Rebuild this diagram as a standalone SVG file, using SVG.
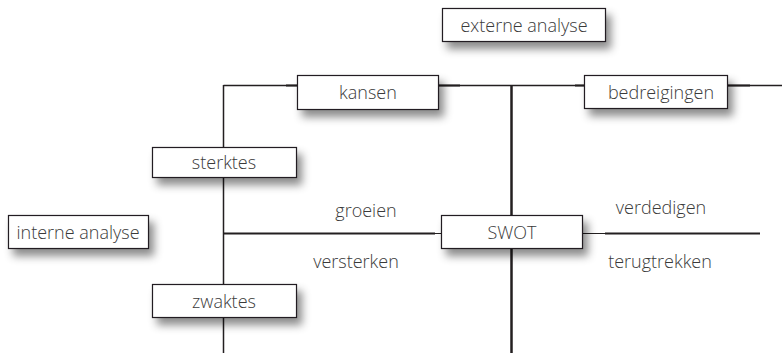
<svg xmlns="http://www.w3.org/2000/svg" width="782" height="353" viewBox="0 0 782 353">
<defs>
<filter id="sh" x="-20%" y="-40%" width="150%" height="200%">
<feDropShadow dx="5" dy="7" stdDeviation="4" flood-color="#000" flood-opacity="0.45"/>
</filter>
<style>
.box{fill:#fff;stroke:#231f20;stroke-width:1.2;filter:url(#sh)}
.t{font-family:"Open Sans","Noto Sans",sans-serif;font-size:18px;font-weight:300;fill:#3a3a3a;text-anchor:middle;dominant-baseline:central}
.ln{stroke:#231f20;fill:none}
</style>
</defs>
<rect width="782" height="353" fill="#fff"/>
<g id="connectors">
<path class="ln" stroke-width="1.3" d="M223.5 85.5H297M439 85.5H584M728 85.5H782"/>
<path class="ln" stroke-width="2.2" d="M286 85.5H297M439 85.5H460M575 85.5H584M728 85.5H750"/>
<path class="ln" stroke-width="1.5" d="M223.5 85V353"/>
<path class="ln" stroke-width="2.5" d="M511.5 85V215M511.5 249V353"/>
<path class="ln" stroke-width="2.2" d="M223 233.5H435M605 233.5H760"/>
<path class="ln" stroke-width="1.2" d="M435 233.5H441M583 233.5H605"/>
</g>
<g id="externe-analyse"><rect class="box" x="442.5" y="8.5" width="163" height="33"/><text class="t" x="524" y="25">externe analyse</text></g>
<g id="kansen"><rect class="box" x="297.5" y="75.5" width="141" height="34"/><text class="t" x="368" y="92">kansen</text></g>
<g id="bedreigingen"><rect class="box" x="584.5" y="75.5" width="143" height="33"/><text class="t" x="661" y="92">bedreigingen</text></g>
<g id="sterktes"><rect class="box" x="152.5" y="147.5" width="144" height="30"/><text class="t" x="224" y="162">sterktes</text></g>
<g id="interne-analyse"><rect class="box" x="8.5" y="215.5" width="140" height="33"/><text class="t" x="78" y="232">interne analyse</text></g>
<g id="swot"><rect class="box" x="441.5" y="215.5" width="141" height="33"/><text class="t" x="512" y="232">SWOT</text></g>
<g id="zwaktes"><rect class="box" x="152.5" y="284.5" width="144" height="33"/><text class="t" x="224" y="301">zwaktes</text></g>
<g id="labels">
<text class="t" x="366" y="210">groeien</text>
<text class="t" x="356" y="261">versterken</text>
<text class="t" x="661" y="207">verdedigen</text>
<text class="t" x="660" y="261">terugtrekken</text>
</g>
</svg>
